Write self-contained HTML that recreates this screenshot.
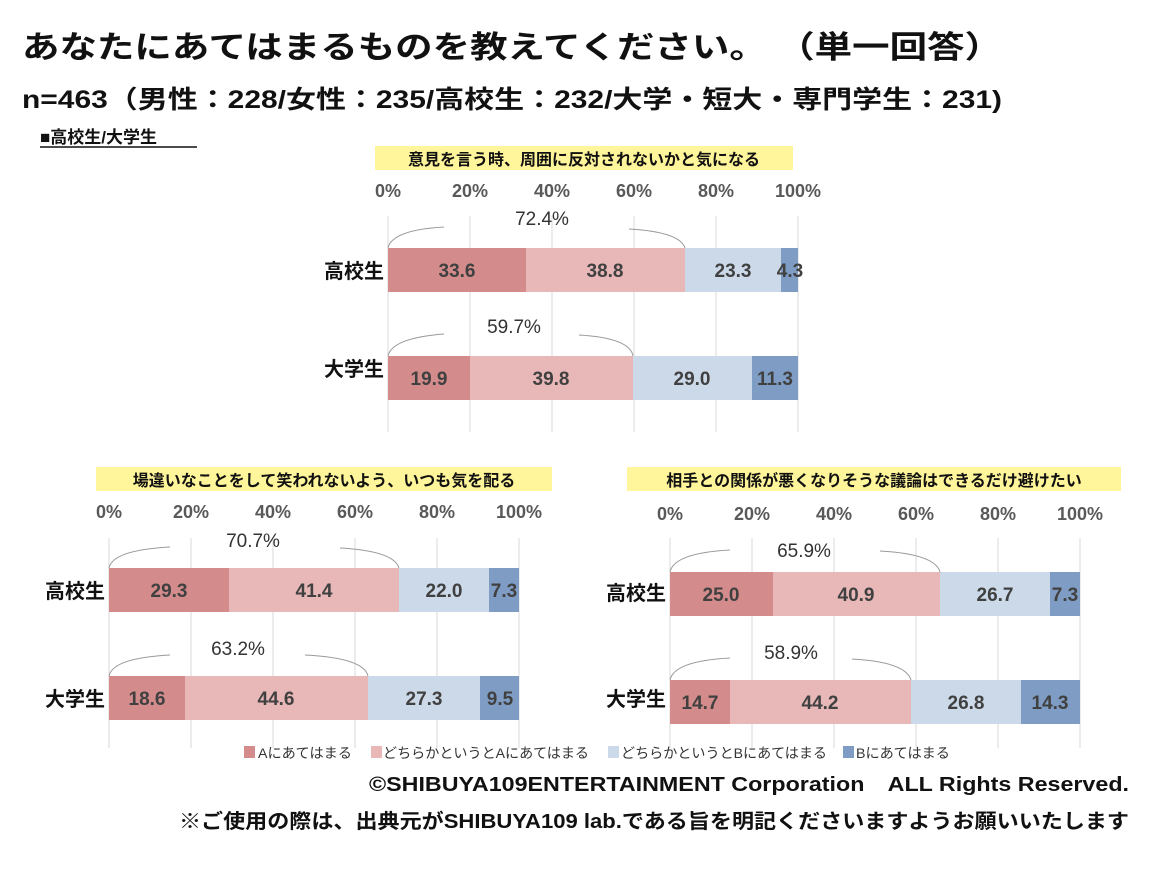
<!DOCTYPE html>
<html><head><meta charset="utf-8"><style>
body{margin:0;background:#fff;}
svg text{font-family:"Liberation Sans","Noto Sans CJK JP",sans-serif;}
</style></head><body>
<svg width="1160" height="880" xmlns="http://www.w3.org/2000/svg">
<text x="22" y="58" font-size="31" font-weight="bold" fill="#111" textLength="980" lengthAdjust="spacingAndGlyphs">あなたにあてはまるものを教えてください。 （単一回答）</text>
<text x="22" y="108" font-size="25" font-weight="bold" fill="#111" textLength="980" lengthAdjust="spacingAndGlyphs">n=463（男性：228/女性：235/高校生：232/大学・短大・専門学生：231)</text>
<text x="40" y="143" font-size="17" font-weight="bold" fill="#111">■高校生/大学生</text>
<line x1="40" y1="147" x2="197" y2="147" stroke="#111" stroke-width="1.5"/>

<g id="c1">
<rect x="375" y="146" width="418" height="24" fill="#fff59a"/>
<text x="584" y="165" font-size="16" font-weight="bold" text-anchor="middle" fill="#111">意見を言う時、周囲に反対されないかと気になる</text>
<g font-size="18" font-weight="bold" fill="#595959" text-anchor="middle">
<text x="388" y="197">0%</text><text x="470" y="197">20%</text><text x="552" y="197">40%</text><text x="634" y="197">60%</text><text x="716" y="197">80%</text><text x="798" y="197">100%</text></g>
<g stroke="#d9d9d9"><line x1="388" y1="216" x2="388" y2="432"/><line x1="470" y1="216" x2="470" y2="432"/><line x1="552" y1="216" x2="552" y2="432"/><line x1="634" y1="216" x2="634" y2="432"/><line x1="716" y1="216" x2="716" y2="432"/><line x1="798" y1="216" x2="798" y2="432"/></g>
<text x="384" y="278" font-size="20" font-weight="bold" text-anchor="end" fill="#111">高校生</text>
<text x="384" y="376" font-size="20" font-weight="bold" text-anchor="end" fill="#111">大学生</text>
<rect x="388" y="248" width="138" height="44" fill="#d48b8b"/><rect x="526" y="248" width="159" height="44" fill="#e8b8b8"/><rect x="685" y="248" width="96" height="44" fill="#ccd9e8"/><rect x="781" y="248" width="17" height="44" fill="#7f9dc4"/>
<rect x="388" y="356" width="82" height="44" fill="#d48b8b"/><rect x="470" y="356" width="163" height="44" fill="#e8b8b8"/><rect x="633" y="356" width="119" height="44" fill="#ccd9e8"/><rect x="752" y="356" width="46" height="44" fill="#7f9dc4"/>
<g font-size="19" font-weight="bold" fill="#404040" text-anchor="middle">
<text x="457" y="277">33.6</text><text x="605" y="277">38.8</text><text x="733" y="277">23.3</text><text x="790" y="277">4.3</text>
<text x="429" y="385">19.9</text><text x="551" y="385">39.8</text><text x="692" y="385">29.0</text><text x="775" y="385">11.3</text></g>
<g fill="none" stroke="#999" stroke-width="1">
<path d="M388 248 Q392 230 444 227"/><path d="M629 229 Q680 232 685 248"/>
<path d="M388 356 Q392 338 444 334"/><path d="M579 335 Q630 338 633 356"/></g>
<g font-size="19" fill="#333" text-anchor="middle"><text x="542" y="225">72.4%</text><text x="514" y="333">59.7%</text></g>
</g>

<g id="c2">
<rect x="96" y="467" width="456" height="24" fill="#fff59a"/>
<text x="324" y="486" font-size="16" font-weight="bold" text-anchor="middle" fill="#111">場違いなことをして笑われないよう、いつも気を配る</text>
<g font-size="18" font-weight="bold" fill="#595959" text-anchor="middle">
<text x="109" y="518">0%</text><text x="191" y="518">20%</text><text x="273" y="518">40%</text><text x="355" y="518">60%</text><text x="437" y="518">80%</text><text x="519" y="518">100%</text></g>
<g stroke="#d9d9d9"><line x1="109" y1="538" x2="109" y2="748"/><line x1="191" y1="538" x2="191" y2="748"/><line x1="273" y1="538" x2="273" y2="748"/><line x1="355" y1="538" x2="355" y2="748"/><line x1="437" y1="538" x2="437" y2="748"/><line x1="519" y1="538" x2="519" y2="748"/></g>
<text x="105" y="598" font-size="20" font-weight="bold" text-anchor="end" fill="#111">高校生</text>
<text x="105" y="706" font-size="20" font-weight="bold" text-anchor="end" fill="#111">大学生</text>
<rect x="109" y="568" width="120" height="44" fill="#d48b8b"/><rect x="229" y="568" width="170" height="44" fill="#e8b8b8"/><rect x="399" y="568" width="90" height="44" fill="#ccd9e8"/><rect x="489" y="568" width="30" height="44" fill="#7f9dc4"/>
<rect x="109" y="676" width="76" height="44" fill="#d48b8b"/><rect x="185" y="676" width="183" height="44" fill="#e8b8b8"/><rect x="368" y="676" width="112" height="44" fill="#ccd9e8"/><rect x="480" y="676" width="39" height="44" fill="#7f9dc4"/>
<g font-size="19" font-weight="bold" fill="#404040" text-anchor="middle">
<text x="169" y="597">29.3</text><text x="314" y="597">41.4</text><text x="444" y="597">22.0</text><text x="504" y="597">7.3</text>
<text x="147" y="705">18.6</text><text x="276" y="705">44.6</text><text x="424" y="705">27.3</text><text x="500" y="705">9.5</text></g>
<g fill="none" stroke="#999" stroke-width="1">
<path d="M109 568 Q113 550 170 547"/><path d="M340 548 Q394 551 399 568"/>
<path d="M109 676 Q113 658 170 655"/><path d="M305 655 Q364 658 368 676"/></g>
<g font-size="19" fill="#333" text-anchor="middle"><text x="253" y="547">70.7%</text><text x="238" y="655">63.2%</text></g>
</g>

<g id="c3">
<rect x="627" y="467" width="494" height="24" fill="#fff59a"/>
<text x="874" y="486" font-size="16" font-weight="bold" text-anchor="middle" fill="#111">相手との関係が悪くなりそうな議論はできるだけ避けたい</text>
<g font-size="18" font-weight="bold" fill="#595959" text-anchor="middle">
<text x="670" y="520">0%</text><text x="752" y="520">20%</text><text x="834" y="520">40%</text><text x="916" y="520">60%</text><text x="998" y="520">80%</text><text x="1080" y="520">100%</text></g>
<g stroke="#d9d9d9"><line x1="670" y1="538" x2="670" y2="748"/><line x1="752" y1="538" x2="752" y2="748"/><line x1="834" y1="538" x2="834" y2="748"/><line x1="916" y1="538" x2="916" y2="748"/><line x1="998" y1="538" x2="998" y2="748"/><line x1="1080" y1="538" x2="1080" y2="748"/></g>
<text x="666" y="600" font-size="20" font-weight="bold" text-anchor="end" fill="#111">高校生</text>
<text x="666" y="706" font-size="20" font-weight="bold" text-anchor="end" fill="#111">大学生</text>
<rect x="670" y="572" width="103" height="44" fill="#d48b8b"/><rect x="773" y="572" width="167" height="44" fill="#e8b8b8"/><rect x="940" y="572" width="110" height="44" fill="#ccd9e8"/><rect x="1050" y="572" width="30" height="44" fill="#7f9dc4"/>
<rect x="670" y="680" width="60" height="44" fill="#d48b8b"/><rect x="730" y="680" width="181" height="44" fill="#e8b8b8"/><rect x="911" y="680" width="110" height="44" fill="#ccd9e8"/><rect x="1021" y="680" width="59" height="44" fill="#7f9dc4"/>
<g font-size="19" font-weight="bold" fill="#404040" text-anchor="middle">
<text x="721" y="601">25.0</text><text x="856" y="601">40.9</text><text x="995" y="601">26.7</text><text x="1065" y="601">7.3</text>
<text x="700" y="709">14.7</text><text x="820" y="709">44.2</text><text x="966" y="709">26.8</text><text x="1050" y="709">14.3</text></g>
<g fill="none" stroke="#999" stroke-width="1">
<path d="M670 572 Q674 553 730 550"/><path d="M880 551 Q935 554 940 572"/>
<path d="M670 680 Q674 661 730 658"/><path d="M852 659 Q906 662 911 680"/></g>
<g font-size="19" fill="#333" text-anchor="middle"><text x="804" y="557">65.9%</text><text x="791" y="659">58.9%</text></g>
</g>

<g font-size="14" fill="#333">
<rect x="244" y="746" width="11" height="12" fill="#d48b8b"/><text x="258" y="758" textLength="94" lengthAdjust="spacingAndGlyphs">Aにあてはまる</text>
<rect x="371" y="746" width="11" height="12" fill="#e8b8b8"/><text x="383" y="758" textLength="206" lengthAdjust="spacingAndGlyphs">どちらかというとAにあてはまる</text>
<rect x="608" y="746" width="11" height="12" fill="#ccd9e8"/><text x="621" y="758" textLength="206" lengthAdjust="spacingAndGlyphs">どちらかというとBにあてはまる</text>
<rect x="843" y="746" width="11" height="12" fill="#7f9dc4"/><text x="856" y="758" textLength="94" lengthAdjust="spacingAndGlyphs">Bにあてはまる</text>
</g>
<text x="1129" y="791" font-size="20" font-weight="bold" text-anchor="end" fill="#111" textLength="760" lengthAdjust="spacingAndGlyphs">©SHIBUYA109ENTERTAINMENT Corporation　ALL Rights Reserved.</text>
<text x="1129" y="828" font-size="20" font-weight="bold" text-anchor="end" fill="#111" textLength="950" lengthAdjust="spacingAndGlyphs">※ご使用の際は、出典元がSHIBUYA109 lab.である旨を明記くださいますようお願いいたします</text>
</svg>
</body></html>
